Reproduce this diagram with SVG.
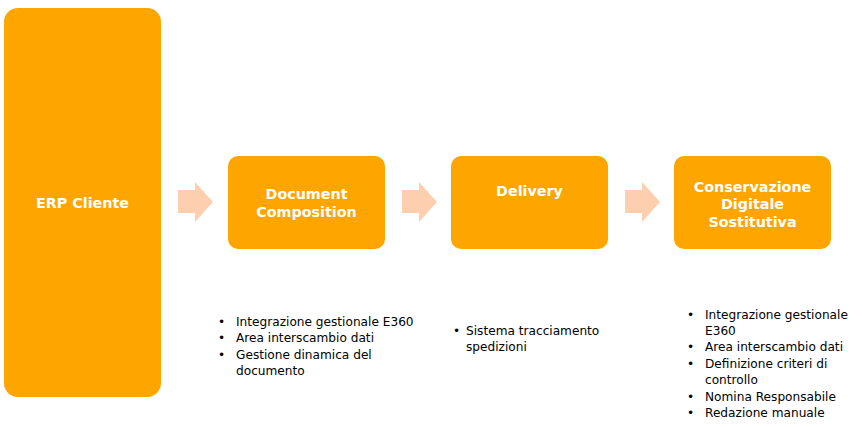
<svg xmlns="http://www.w3.org/2000/svg" width="863" height="427" viewBox="0 0 863 427">
<style>
.box{fill:#FFA500;}
.arr{fill:#FDCFAF;}
.t{font-family:"DejaVu Sans",Verdana,sans-serif;font-weight:bold;font-size:14.3px;fill:#ffffff;text-anchor:middle;}
.b{font-family:"DejaVu Sans",Verdana,sans-serif;font-size:12.15px;fill:#000000;}
</style>
<rect width="863" height="427" fill="#ffffff"/>
<g id="connectors">
<path class="arr" d="M178,190 H195 V182 L213,202 L195,222 V213 H178 Z"/>
<path class="arr" d="M402,190 H419 V182 L437,202 L419,222 V213 H402 Z"/>
<path class="arr" d="M625,190 H642 V182 L660,202 L642,222 V213 H625 Z"/>
</g>
<g id="erp">
<rect class="box" x="4" y="8" width="157" height="389" rx="14"/>
<text class="t" x="82.5" y="208">ERP Cliente</text>
</g>
<g id="doc">
<rect class="box" x="228" y="156" width="157" height="93" rx="10"/>
<text class="t" x="306.5" y="198.5">Document</text>
<text class="t" x="306.5" y="216.5">Composition</text>
</g>
<g id="delivery">
<rect class="box" x="451" y="156" width="157" height="93" rx="10"/>
<text class="t" x="529.5" y="195.5">Delivery</text>
</g>
<g id="cons">
<rect class="box" x="674" y="156" width="157" height="93" rx="10"/>
<text class="t" x="752.5" y="191.5">Conservazione</text>
<text class="t" x="752.5" y="208.5">Digitale</text>
<text class="t" x="752.5" y="226.5">Sostitutiva</text>
</g>
<g id="list-doc" class="b">
<text x="218" y="326">•</text><text x="236" y="326">Integrazione gestionale E360</text>
<text x="218" y="342">•</text><text x="236" y="342">Area interscambio dati</text>
<text x="218" y="359">•</text><text x="236" y="359">Gestione dinamica del</text>
<text x="236" y="375">documento</text>
</g>
<g id="list-del" class="b">
<text x="453" y="335">•</text><text x="466" y="335">Sistema tracciamento</text>
<text x="466" y="351">spedizioni</text>
</g>
<g id="list-cons" class="b">
<text x="687" y="319">•</text><text x="705" y="319">Integrazione gestionale</text>
<text x="705" y="335">E360</text>
<text x="687" y="351">•</text><text x="705" y="351">Area interscambio dati</text>
<text x="687" y="368">•</text><text x="705" y="368">Definizione criteri di</text>
<text x="705" y="384">controllo</text>
<text x="687" y="401">•</text><text x="705" y="401">Nomina Responsabile</text>
<text x="687" y="417">•</text><text x="705" y="417">Redazione manuale</text>
</g>
</svg>
